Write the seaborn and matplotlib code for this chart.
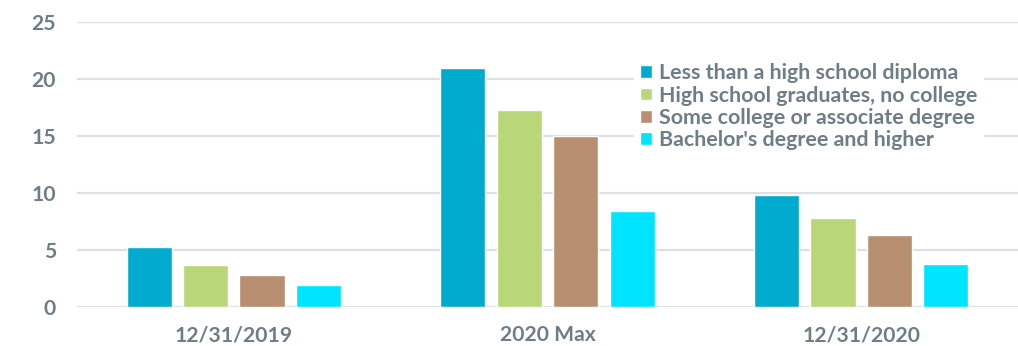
import matplotlib
matplotlib.use("Agg")
import matplotlib.pyplot as plt
import matplotlib.font_manager as fm
import seaborn as sns
import pandas as pd

periods = ["12/31/2019", "2020 Max", "12/31/2020"]
groups = [
    "Less than a high school diploma",
    "High school graduates, no college",
    "Some college or associate degree",
    "Bachelor's degree and higher",
]
less_than_hs = [5.3, 21.0, 9.8]
hs_grad = [3.7, 17.3, 7.8]
some_college = [2.8, 15.0, 6.3]
bachelors = [1.9, 8.4, 3.8]

colors = ["#00ABD0", "#B9D779", "#B98F71", "#00E5FF"]
text_color = "#6E7E87"

df = pd.DataFrame({
    "period": periods * 4,
    "group": [g for g in groups for _ in periods],
    "rate": less_than_hs + hs_grad + some_college + bachelors,
})

sns.set_theme(style="white")
plt.rcParams["font.family"] = ["Lato", "DejaVu Sans"]

# explicit bold Lato face
bold_path = next((f.fname for f in fm.fontManager.ttflist
                  if f.fname.endswith("Lato-Bold.ttf")), None)
def bold(size):
    if bold_path:
        return fm.FontProperties(fname=bold_path, size=size)
    return fm.FontProperties(family="Lato", weight="bold", size=size)

fig = plt.figure(figsize=(10.18, 3.46), dpi=100)
ax = fig.add_axes([77 / 1018, 1 - 307 / 346, 1 - 77 / 1018, (307 - 22) / 346])

sns.barplot(data=df, x="period", y="rate", hue="group", order=periods,
            hue_order=groups, palette=colors, width=0.72, gap=0.2,
            saturation=1, ax=ax, zorder=3)

ax.set_xlim(-0.5, 2.5)
ax.set_ylim(0, 25)
ax.set_yticks([0, 5, 10, 15, 20, 25])
ax.yaxis.grid(True, color="#DCE1E3", linewidth=1.6, zorder=0)
ax.set_axisbelow(True)
for s in ax.spines.values():
    s.set_visible(False)
ax.set_xlabel("")
ax.set_ylabel("")
ax.tick_params(axis="y", length=0, pad=15, labelcolor=text_color)
ax.tick_params(axis="x", length=0, pad=13, labelcolor=text_color)
for lbl in ax.get_xticklabels() + ax.get_yticklabels():
    lbl.set_fontproperties(bold(15.2))

leg = ax.legend(loc="upper left", bbox_to_anchor=((634 - 77) / 941, 1 - (57 - 22) / 285),
                frameon=True, fancybox=False, framealpha=1, edgecolor="white",
                facecolor="white", prop=bold(15.4), labelcolor=text_color,
                handlelength=0.55, handleheight=0.55, handletextpad=0.3,
                labelspacing=0.1, borderpad=0.3, borderaxespad=0)
leg.set_zorder(5)

fig.savefig("out.png", dpi=100)
